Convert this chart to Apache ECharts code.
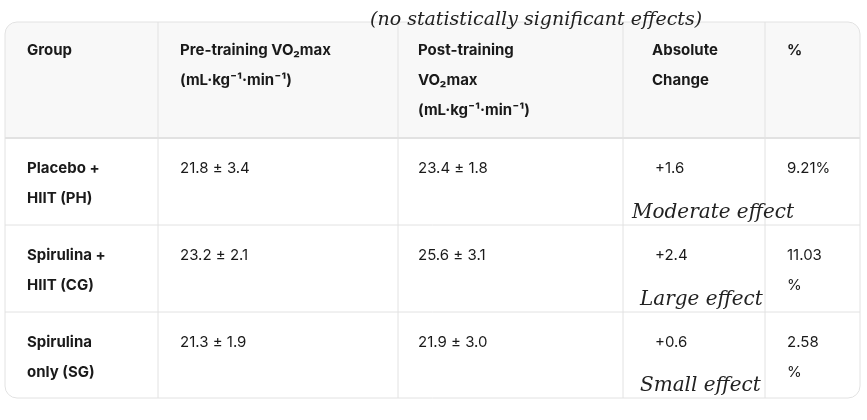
<!DOCTYPE html>
<html><head><meta charset="utf-8">
<script src="https://cdn.jsdelivr.net/npm/echarts@6/dist/echarts.min.js"></script>
<style>html,body{margin:0;padding:0;background:#fff}#c{width:867px;height:420px}</style>
</head><body><div id="c"></div>
<script>
const headers = [["Group"],["Pre-training VO₂max","(mL·kg⁻¹·min⁻¹)"],["Post-training","VO₂max","(mL·kg⁻¹·min⁻¹)"],["Absolute","Change"],["%"]];
const groups = [["Placebo +","HIIT (PH)"],["Spirulina +","HIIT (CG)"],["Spirulina","only (SG)"]];
const preVals = ["21.8 ± 3.4","23.2 ± 2.1","21.3 ± 1.9"];
const postVals = ["23.4 ± 1.8","25.6 ± 3.1","21.9 ± 3.0"];
const absVals = ["+1.6","+2.4","+0.6"];
const pctVals = [["9.21%"],["11.03","%"],["2.58","%"]];
const effects = ["Moderate effect","Large effect","Small effect"];
const note = "(no statistically significant effects)";

const colX = [5,158,398,623,765,860];
const rowY = [22,138,225,312,398];
const textX = [27,180,418,652,787];
const lh = 30;
const font = 'Inter, "Noto Sans", sans-serif';
const els = [];
els.push({type:'rect',shape:{x:colX[0],y:rowY[0],width:colX[5]-colX[0],height:rowY[1]-rowY[0],r:[12,12,0,0]},style:{fill:'#f8f8f8'}});
for(let i=1;i<colX.length-1;i++) els.push({type:'line',shape:{x1:colX[i],y1:rowY[0],x2:colX[i],y2:rowY[4]},style:{stroke:'#e2e2e2',lineWidth:1}});
for(let j=1;j<rowY.length-1;j++) els.push({type:'line',shape:{x1:colX[0],y1:rowY[j],x2:colX[5],y2:rowY[j]},style:{stroke:'#e2e2e2',lineWidth:j==1?2:1}});
els.push({type:'rect',shape:{x:colX[0],y:rowY[0],width:colX[5]-colX[0],height:rowY[4]-rowY[0],r:12},style:{fill:'none',stroke:'#e2e2e2',lineWidth:1}});
function txt(s,x,y,bold){els.push({type:'text',x:x,y:y,style:{text:s,font:(bold?'bold ':'')+'15px '+font,fill:'#1a1a1a',verticalAlign:'middle'}});}
headers.forEach((h,c)=>h.forEach((l,k)=>txt(l,textX[c],50+k*lh,true)));
for(let r=0;r<3;r++){
  const y0=rowY[r+1]+30;
  groups[r].forEach((l,k)=>txt(l,textX[0],y0+k*lh,true));
  txt(preVals[r],textX[1],y0);
  txt(postVals[r],textX[2],y0);
  txt(absVals[r],textX[3]+3,y0);
  pctVals[r].forEach((l,k)=>txt(l,textX[4],y0+k*lh));
  els.push({type:'text',x:632+(r?8:0),y:rowY[r+2]-12,style:{text:effects[r],font:'italic 20px "DejaVu Serif", serif',fill:'#222',verticalAlign:'middle'}});
}
els.push({type:'text',x:370,y:20,style:{text:note,font:'italic 19px "DejaVu Serif", serif',fill:'#222',verticalAlign:'middle'}});
const chart = echarts.init(document.getElementById('c'));
chart.setOption({graphic:{elements:els}});
</script></body></html>
